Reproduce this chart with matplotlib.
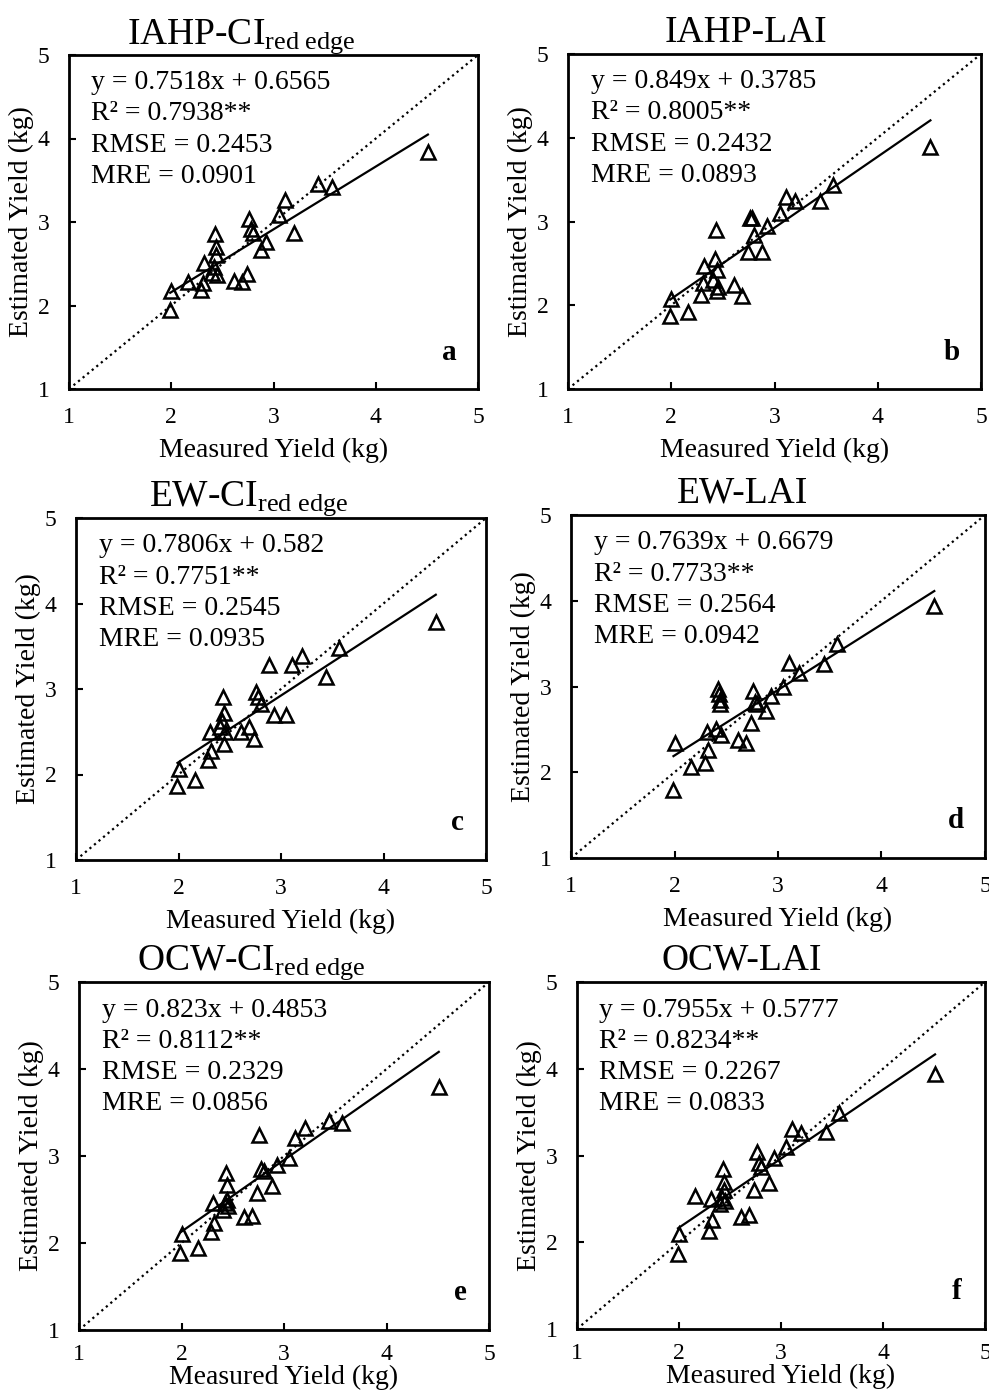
import numpy as np
import matplotlib
matplotlib.use("Agg")
import matplotlib.pyplot as plt

# Times-like serif for everything, subscripts in mathtext too
plt.rcParams['font.family'] = ['Liberation Serif', 'DejaVu Serif']
plt.rcParams['mathtext.fontset'] = 'custom'
plt.rcParams['mathtext.rm'] = 'Liberation Serif'
plt.rcParams['mathtext.it'] = 'Liberation Serif:italic'

# measured yield (kg), same samples in every panel
measured = [1.99, 2.00, 2.16, 2.29, 2.31, 2.32, 2.40, 2.42, 2.43, 2.44, 2.44, 2.45, 2.61,
            2.69, 2.74, 2.76, 2.78, 2.80, 2.88, 2.93, 3.05, 3.11, 3.20, 3.44, 3.57, 4.51]

# estimated yield (kg) per model
est_iahp_ci = [1.95, 2.17, 2.28, 2.18, 2.27, 2.51, 2.39, 2.46, 2.86, 2.70, 2.60, 2.37, 2.29,
               2.28, 2.38, 3.04, 2.92, 2.87, 2.66, 2.76, 3.08, 3.26, 2.87, 3.46, 3.42, 3.84]
est_iahp_lai = [1.87, 2.08, 1.92, 2.12, 2.26, 2.47, 2.30, 2.55, 2.90, 2.17, 2.42, 2.22, 2.24,
                2.11, 2.64, 3.04, 3.04, 2.84, 2.64, 2.95, 3.10, 3.29, 3.24, 3.24, 3.44, 3.89]
est_ew_ci = [1.87, 2.06, 1.94, 2.17, 2.50, 2.27, 2.56, 2.62, 2.91, 2.72, 2.36, 2.50, 2.50,
             2.56, 2.41, 2.97, 2.91, 2.83, 3.28, 2.70, 2.70, 3.28, 3.39, 3.14, 3.48, 3.78]
est_ew_lai = [1.79, 2.34, 2.06, 2.11, 2.47, 2.26, 2.51, 2.97, 2.91, 2.84, 2.80, 2.43, 2.38,
              2.34, 2.58, 2.95, 2.82, 2.80, 2.71, 2.89, 2.99, 3.27, 3.16, 3.26, 3.50, 3.94]
est_ocw_ci = [1.89, 2.10, 1.94, 2.13, 2.46, 2.23, 2.38, 2.46, 2.80, 2.67, 2.50, 2.42, 2.30,
              2.31, 2.57, 3.24, 2.85, 2.83, 2.66, 2.90, 2.98, 3.21, 3.32, 3.40, 3.38, 3.79]
est_ocw_lai = [1.87, 2.09, 2.53, 2.13, 2.50, 2.26, 2.44, 2.51, 2.85, 2.70, 2.60, 2.47, 2.29,
               2.31, 2.60, 3.04, 2.91, 2.87, 2.68, 2.97, 3.10, 3.31, 3.26, 3.27, 3.49, 3.94]
estimates = [est_iahp_ci, est_iahp_lai, est_ew_ci, est_ew_lai, est_ocw_ci, est_ocw_lai]

titles = ['IAHP-CI$_{\\mathrm{red\\ edge}}$', 'IAHP-LAI',
          'EW-CI$_{\\mathrm{red\\ edge}}$', 'EW-LAI',
          'OCW-CI$_{\\mathrm{red\\ edge}}$', 'OCW-LAI']
letters = ['a', 'b', 'c', 'd', 'e', 'f']
slopes = [0.7518, 0.849, 0.7806, 0.7639, 0.823, 0.7955]
intercepts = [0.6565, 0.3785, 0.582, 0.6679, 0.4853, 0.5777]
r2 = ['0.7938', '0.8005', '0.7751', '0.7733', '0.8112', '0.8234']
rmse = ['0.2453', '0.2432', '0.2545', '0.2564', '0.2329', '0.2267']
mre = ['0.0901', '0.0893', '0.0935', '0.0942', '0.0856', '0.0833']
ticks = [1, 2, 3, 4, 5]

W, H = 989, 1398
fig = plt.figure(figsize=(W / 100, H / 100), dpi=100)

# frame boxes in pixels: left, top, right, bottom
boxes = [(69, 55, 478, 389), (568, 54, 981, 389),
         (76, 518, 486, 860), (571, 515, 985, 858),
         (79, 982, 489, 1330), (577, 982, 985, 1329)]
title_x = [0.42, 0.43, 0.42, 0.415, 0.42, 0.405]

for i, (l, t, r, b) in enumerate(boxes):
    ax = fig.add_axes([l / W, (H - b) / H, (r - l) / W, (b - t) / H])
    x = np.array(measured)
    y = np.array(estimates[i])

    # 1:1 line
    ax.plot([1, 5], [1, 5], color='black', linestyle=':', linewidth=1.6)
    # fitted line over the measured range
    xf = np.array([x.min(), x.max()])
    ax.plot(xf, slopes[i] * xf + intercepts[i], color='black', linewidth=1.6)
    ax.plot(x, y, linestyle='none', marker='^', markersize=10.5,
            markerfacecolor='none', markeredgecolor='black', markeredgewidth=1.8)

    ax.set_xlim(1, 5)
    ax.set_ylim(1, 5)
    ax.set_xticks(ticks)
    ax.set_yticks(ticks)
    ax.tick_params(direction='in', length=5, width=1.5, labelsize=17)
    ax.tick_params(axis='x', pad=13 if i < 4 else 10)
    ax.tick_params(axis='y', pad=14)
    for s in ax.spines.values():
        s.set_linewidth(2.0)

    # bottom row sits close to the figure edge
    ax.set_xlabel('Measured Yield (kg)', fontsize=20, labelpad=7 if i < 4 else 0)
    ax.set_ylabel('Estimated Yield (kg)', fontsize=20, labelpad=3)

    ax.text(title_x[i], 1.035, titles[i], transform=ax.transAxes,
            ha='center', va='baseline', fontsize=27)

    txt = (f'y = {slopes[i]}x + {intercepts[i]}\n'
           f'R\u00b2 = {r2[i]}**\n'
           f'RMSE = {rmse[i]}\n'
           f'MRE = {mre[i]}')
    ax.text(0.055, 0.955, txt, transform=ax.transAxes, ha='left', va='top',
            fontsize=20, linespacing=1.33)
    ax.text(0.93, 0.07, letters[i], transform=ax.transAxes, ha='center',
            va='bottom', fontsize=21, fontweight='bold')

fig.savefig('out.png', dpi=100)
